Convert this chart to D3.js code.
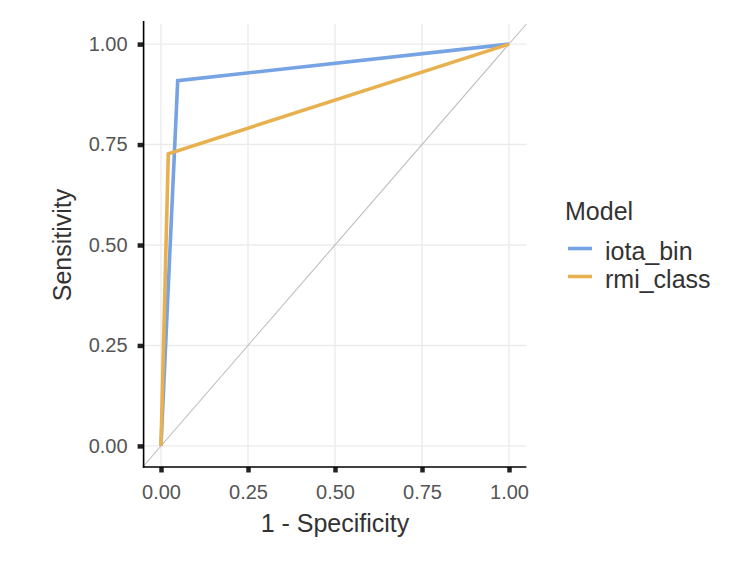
<!DOCTYPE html>
<html>
<head>
<meta charset="utf-8">
<script src="https://cdn.jsdelivr.net/npm/d3@7"></script>
<style>
  html, body { margin: 0; padding: 0; background: #fff; }
  svg { display: block; font-family: "Liberation Sans", Arial, sans-serif; }
</style>
</head>
<body>
<svg id="chart" width="750" height="567"></svg>
<script>
// ---- data ----
const models = ["iota_bin", "rmi_class"];
const colors = ["#76a3e3", "#e8b14f"];
const iotaFpr = [0, 0.048, 1];
const iotaTpr = [0, 0.909, 1];
const rmiFpr = [0, 0.021, 1];
const rmiTpr = [0, 0.727, 1];
const xTicks = [0, 0.25, 0.5, 0.75, 1];
const yTicks = [0, 0.25, 0.5, 0.75, 1];

const series = [
  { name: models[0], color: colors[0], pts: iotaFpr.map((x, i) => [x, iotaTpr[i]]) },
  { name: models[1], color: colors[1], pts: rmiFpr.map((x, i) => [x, rmiTpr[i]]) }
];

const svg = d3.select("#chart");
const panel = { left: 143.6, right: 526.4, top: 24, bottom: 466 };

const x = d3.scaleLinear().domain([-0.05, 1.05]).range([panel.left, panel.right]);
const y = d3.scaleLinear().domain([-0.05, 1.05]).range([panel.bottom, panel.top]);

// grid
const g = svg.append("g");
g.selectAll(".vg").data(xTicks).enter().append("line")
  .attr("x1", d => x(d)).attr("x2", d => x(d))
  .attr("y1", panel.top).attr("y2", panel.bottom)
  .attr("stroke", "#ebebeb").attr("stroke-width", 1.4);
g.selectAll(".hg").data(yTicks).enter().append("line")
  .attr("y1", d => y(d)).attr("y2", d => y(d))
  .attr("x1", panel.left).attr("x2", panel.right)
  .attr("stroke", "#ebebeb").attr("stroke-width", 1.4);

// diagonal
g.append("line")
  .attr("x1", x(-0.05)).attr("y1", y(-0.05))
  .attr("x2", x(1.05)).attr("y2", y(1.05))
  .attr("stroke", "#bdbdbd").attr("stroke-width", 1.1);

// ROC lines
const line = d3.line().x(d => x(d[0])).y(d => y(d[1]));
series.forEach(s => {
  g.append("path").datum(s.pts)
    .attr("d", line)
    .attr("fill", "none")
    .attr("stroke", s.color)
    .attr("stroke-width", 3.6)
    .attr("stroke-linejoin", "miter");
});

// axes
const xAxis = d3.axisBottom(x).tickValues(xTicks).tickFormat(d3.format(".2f")).tickSize(5.5).tickPadding(12);
const yAxis = d3.axisLeft(y).tickValues(yTicks).tickFormat(d3.format(".2f")).tickSize(6).tickPadding(10);

const gx = svg.append("g").attr("transform", `translate(0,${panel.bottom + 1})`).call(xAxis);
const gy = svg.append("g").attr("transform", `translate(${panel.left},0)`).call(yAxis);

[gx, gy].forEach(a => {
  a.attr("font-size", 20).attr("font-family", "'Liberation Sans', Arial, sans-serif");
  a.select(".domain").remove();
  a.selectAll(".tick line").attr("stroke", "#222").attr("stroke-width", 4.5);
  a.selectAll(".tick text").attr("fill", "#555");
});
gx.selectAll(".tick text").attr("dy", "0.71em");

// axis lines
svg.append("line").attr("x1", panel.left).attr("x2", panel.left)
  .attr("y1", panel.top - 3).attr("y2", panel.bottom + 1.5)
  .attr("stroke", "#000").attr("stroke-width", 1.6);
svg.append("line").attr("x1", panel.left - 0.8).attr("x2", panel.right)
  .attr("y1", panel.bottom + 1).attr("y2", panel.bottom + 1)
  .attr("stroke", "#000").attr("stroke-width", 1.6);

// axis titles
svg.append("text").attr("x", (panel.left + panel.right) / 2).attr("y", 532)
  .attr("text-anchor", "middle").attr("fill", "#333").style("font-size", "25px")
  .text("1 - Specificity");
svg.append("text").attr("transform", `translate(71,${(panel.top + panel.bottom) / 2}) rotate(-90)`)
  .attr("text-anchor", "middle").attr("fill", "#333").style("font-size", "25px")
  .text("Sensitivity");

// legend
const lg = svg.append("g");
lg.append("text").attr("x", 565).attr("y", 220).attr("fill", "#333")
  .style("font-size", "25px").text("Model");
series.forEach((s, i) => {
  const cy = 248.5 + i * 28;
  lg.append("line").attr("x1", 568).attr("x2", 592).attr("y1", cy).attr("y2", cy)
    .attr("stroke", s.color).attr("stroke-width", 3.6);
  lg.append("text").attr("x", 605).attr("y", cy + 11.5).attr("fill", "#333")
    .style("font-size", "25px").text(s.name);
});
</script>
</body>
</html>
